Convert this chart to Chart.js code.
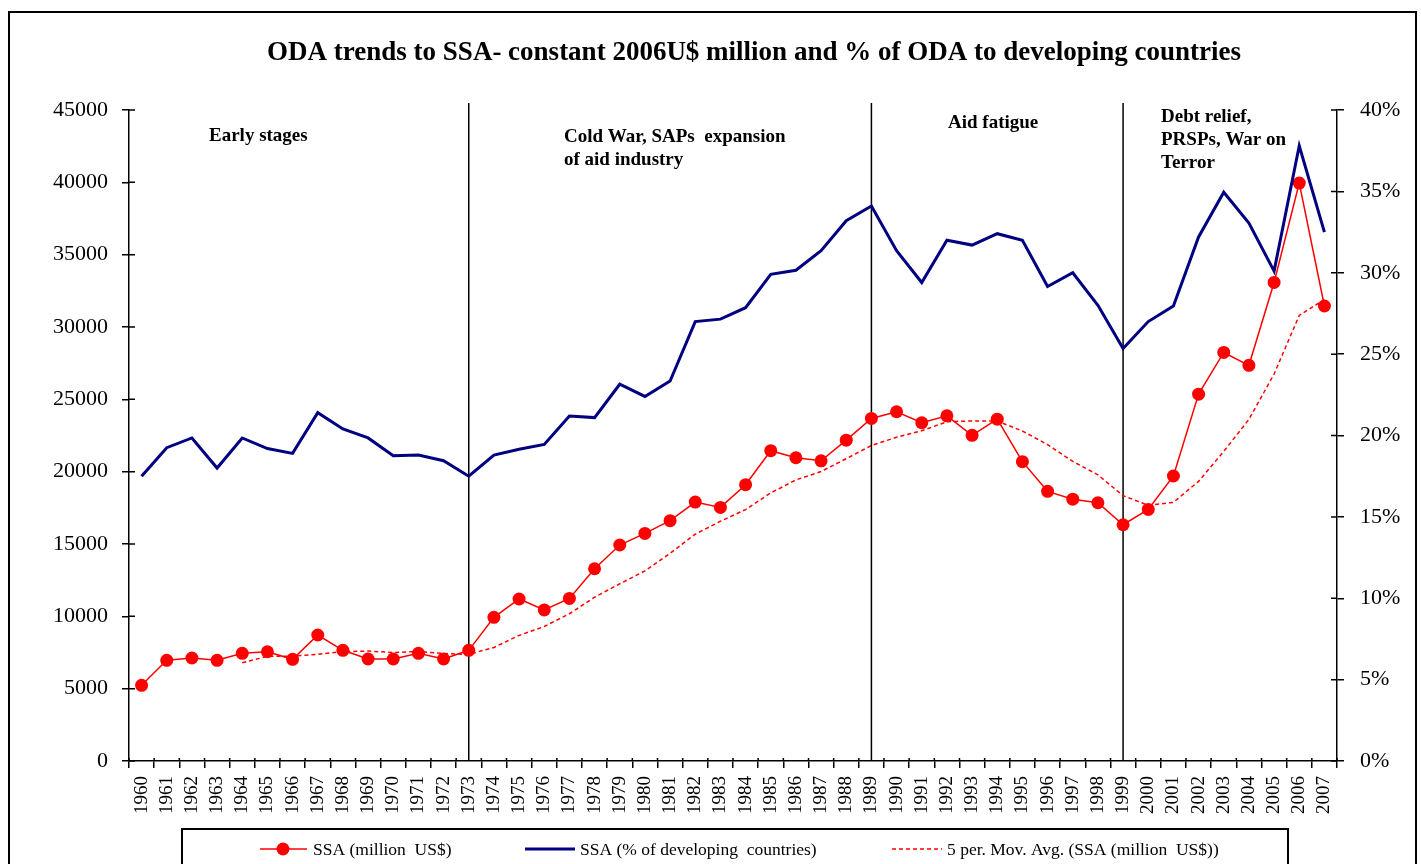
<!DOCTYPE html>
<html lang="en">
<head>
<meta charset="UTF-8">
<title>ODA trends to SSA</title>
<script src="https://cdn.jsdelivr.net/npm/chart.js@4.4.1/dist/chart.umd.min.js"></script>
<style>
  body { margin: 0; background: #fff; }
  canvas { display: block; }
</style>
</head>
<body>
<canvas id="oda" width="1421" height="864"></canvas>
<script>
// years on the category axis
const years = ['1960','1961','1962','1963','1964','1965','1966','1967','1968','1969',
  '1970','1971','1972','1973','1974','1975','1976','1977','1978','1979',
  '1980','1981','1982','1983','1984','1985','1986','1987','1988','1989',
  '1990','1991','1992','1993','1994','1995','1996','1997','1998','1999',
  '2000','2001','2002','2003','2004','2005','2006','2007'];

// SSA, constant 2006 US$ million (left axis)
const ssaMillion = [5230, 6960, 7120, 6960, 7440, 7550, 7030, 8710, 7650, 7050,
  7050, 7440, 7050, 7650, 9930, 11200, 10440, 11240, 13290, 14930,
  15730, 16610, 17900, 17530, 19100, 21450, 20960, 20750, 22180, 23680,
  24140, 23380, 23860, 22510, 23630, 20690, 18640, 18100, 17850, 16330,
  17390, 19700, 25360, 28240, 27350, 33080, 39950, 31450];

// SSA as % of ODA to developing countries (right axis)
const ssaPct = [17.5, 19.25, 19.85, 18.0, 19.85, 19.2, 18.9, 21.4, 20.4, 19.85,
  18.75, 18.8, 18.45, 17.5, 18.8, 19.15, 19.45, 21.2, 21.1, 23.15,
  22.4, 23.35, 27.0, 27.15, 27.85, 29.9, 30.15, 31.35, 33.2, 34.1,
  31.35, 29.4, 32.0, 31.7, 32.4, 32.0, 29.15, 30.0, 28.0, 25.35,
  27.0, 27.95, 32.2, 34.95, 33.05, 30.1, 37.8, 32.5];

// 5 per. moving average of the million US$ series, as drawn
const movAvg = [null, null, null, null, 6790, 7230, 7240, 7380, 7560, 7600,
  7500, 7570, 7430, 7370, 7850, 8680, 9300, 10180, 11320, 12250,
  13140, 14350, 15680, 16570, 17380, 18530, 19430, 20010, 20900, 21810,
  22380, 22830, 23450, 23510, 23500, 22810, 21870, 20710, 19780, 18340,
  17680, 17880, 19330, 21400, 23610, 26750, 30800, 31900];

// period boundaries and their captions
const separators = ['1973', '1989', '1999'];
const periodNotes = [
  { lines: ['Early stages'], x: 209, y: 141 },
  { lines: ['Cold War, SAPs  expansion', 'of aid industry'], x: 564, y: 142 },
  { lines: ['Aid fatigue'], x: 948, y: 128 },
  { lines: ['Debt relief,', 'PRSPs, War on', 'Terror'], x: 1161, y: 122 }
];

const serif = "'Liberation Serif', 'Times New Roman', serif";
const RED = '#ff0000', NAVY = '#000080';

const decor = {
  id: 'decor',
  beforeDatasetsDraw(chart) {
    const ctx = chart.ctx, xs = chart.scales.x, bottom = chart.chartArea.bottom;
    ctx.save();
    ctx.strokeStyle = '#000';
    ctx.lineWidth = 1.5;
    separators.forEach(yr => {
      const px = xs.getPixelForValue(years.indexOf(yr));
      ctx.beginPath(); ctx.moveTo(px, 103); ctx.lineTo(px, bottom); ctx.stroke();
    });
    ctx.restore();
  },
  afterDraw(chart) {
    const ctx = chart.ctx, area = chart.chartArea;
    const yl = chart.scales.y, yr = chart.scales.y1;
    ctx.save();

    // outer frame
    ctx.strokeStyle = '#000';
    ctx.lineWidth = 2;
    ctx.strokeRect(9, 12, 1407, 900);

    // inner half of the cross ticks
    ctx.lineWidth = 1.5;
    ctx.beginPath();
    yl.ticks.forEach((t, i) => { const p = yl.getPixelForTick(i); ctx.moveTo(area.left, p); ctx.lineTo(area.left + 6, p); });
    yr.ticks.forEach((t, i) => { const p = yr.getPixelForTick(i); ctx.moveTo(area.right, p); ctx.lineTo(area.right - 6, p); });
    const step = (area.right - area.left) / years.length;
    for (let i = 0; i <= years.length; i++) {
      const p = area.left + i * step;
      ctx.moveTo(p, area.bottom); ctx.lineTo(p, area.bottom - 3);
    }
    ctx.stroke();

    // title
    ctx.fillStyle = '#000';
    ctx.font = 'bold 27px ' + serif;
    ctx.textAlign = 'center';
    ctx.textBaseline = 'alphabetic';
    ctx.fillText('ODA trends to SSA- constant 2006U$ million and % of ODA to developing countries', 754, 60);

    // period captions
    ctx.font = 'bold 19px ' + serif;
    ctx.textAlign = 'left';
    periodNotes.forEach(n => n.lines.forEach((s, i) => ctx.fillText(s, n.x, n.y + i * 23)));

    // legend box
    ctx.lineWidth = 2;
    ctx.strokeRect(182, 829, 1106, 60);
    ctx.font = '17.5px ' + serif;
    const ly = 849;
    ctx.strokeStyle = RED; ctx.lineWidth = 1.5;
    ctx.beginPath(); ctx.moveTo(260, ly); ctx.lineTo(307, ly); ctx.stroke();
    ctx.fillStyle = RED;
    ctx.beginPath(); ctx.arc(283, ly, 6.5, 0, Math.PI * 2); ctx.fill();
    ctx.strokeStyle = NAVY; ctx.lineWidth = 3;
    ctx.beginPath(); ctx.moveTo(525, ly); ctx.lineTo(575, ly); ctx.stroke();
    ctx.strokeStyle = RED; ctx.lineWidth = 1.5; ctx.setLineDash([4, 3]);
    ctx.beginPath(); ctx.moveTo(892, ly); ctx.lineTo(942, ly); ctx.stroke();
    ctx.setLineDash([]);
    ctx.fillStyle = '#000';
    ctx.textBaseline = 'middle';
    ctx.fillText('SSA (million  US$)', 313, ly + 1);
    ctx.fillText('SSA (% of developing  countries)', 580, ly + 1);
    ctx.fillText('5 per. Mov. Avg. (SSA (million  US$))', 947, ly + 1);
    ctx.restore();
  }
};

new Chart(document.getElementById('oda'), {
  type: 'line',
  data: {
    labels: years,
    datasets: [
      { label: 'SSA (% of developing  countries)', data: ssaPct, yAxisID: 'y1',
        borderColor: NAVY, borderWidth: 3, pointRadius: 0, tension: 0 },
      { label: 'SSA (million  US$)', data: ssaMillion, yAxisID: 'y',
        borderColor: RED, backgroundColor: RED, borderWidth: 1.5,
        pointRadius: 6.5, pointBorderWidth: 0, pointBackgroundColor: RED, tension: 0 },
      { label: '5 per. Mov. Avg. (SSA (million  US$))', data: movAvg, yAxisID: 'y',
        borderColor: RED, borderWidth: 1.5, borderDash: [4, 3], pointRadius: 0, tension: 0 }
    ]
  },
  options: {
    responsive: false,
    animation: false,
    events: [],
    layout: { padding: { top: 110, left: 10, right: 10, bottom: 0 } },
    plugins: { legend: { display: false }, title: { display: false }, tooltip: { enabled: false } },
    scales: {
      x: {
        offset: true,
        grid: { display: true, drawOnChartArea: false, offset: true, tickLength: 7, color: '#000', lineWidth: 1.5 },
        border: { display: true, color: '#000', width: 1.5 },
        ticks: { autoSkip: false, maxRotation: 90, minRotation: 90, padding: 8, color: '#000',
                 font: { family: serif, size: 19 } },
        afterFit(s) { s.height = 103; }
      },
      y: {
        position: 'left', min: 0, max: 45000,
        grid: { drawOnChartArea: false, tickLength: 7, color: '#000', lineWidth: 1.5 },
        border: { display: true, color: '#000', width: 1.5 },
        ticks: { stepSize: 5000, padding: 14, color: '#000', font: { family: serif, size: 22 },
                 callback: v => String(v) },
        afterFit(s) { s.width = 119; }
      },
      y1: {
        position: 'right', min: 0, max: 40,
        grid: { drawOnChartArea: false, tickLength: 7, color: '#000', lineWidth: 1.5 },
        border: { display: true, color: '#000', width: 1.5 },
        ticks: { stepSize: 5, padding: 16, color: '#000', font: { family: serif, size: 22 },
                 callback: v => v + '%' },
        afterFit(s) { s.width = 74; }
      }
    }
  },
  plugins: [decor]
});
</script>
</body>
</html>
